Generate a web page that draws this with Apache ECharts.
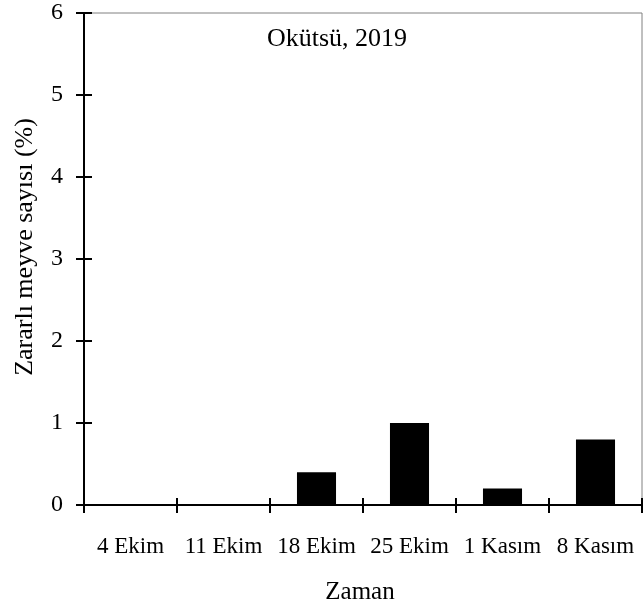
<!DOCTYPE html>
<html>
<head>
<meta charset="utf-8">
<script src="https://cdn.jsdelivr.net/npm/echarts@6/dist/echarts.min.js"></script>
<style>
html,body{margin:0;padding:0;background:#fff;}
#chart{width:643px;height:612px;}
</style>
</head>
<body>
<div id="chart"></div>
<script>
const categories = ['4 Ekim', '11 Ekim', '18 Ekim', '25 Ekim', '1 Kasım', '8 Kasım'];
const damagedFruit = [0, 0, 0.4, 1.0, 0.2, 0.8];
const yTicks = [0, 1, 2, 3, 4, 5, 6];
const chartTitle = 'Okütsü, 2019';
const xName = 'Zaman';
const yName = 'Zararlı meyve sayısı (%)';

const FONT = '"Liberation Serif", "Times New Roman", serif';
const chart = echarts.init(document.getElementById('chart'));
const yMin = yTicks[0], yMax = yTicks[yTicks.length - 1];
chart.setOption({
  animation: false,
  backgroundColor: '#fff',
  title: {
    text: chartTitle,
    left: 262, top: 21,
    textStyle: { fontFamily: FONT, fontSize: 26, fontWeight: 'normal', color: '#000' }
  },
  graphic: [{
    type: 'text', x: 25, y: 247, rotation: Math.PI / 2,
    style: { text: yName, fontFamily: FONT, fontSize: 26, fill: '#000', align: 'center', verticalAlign: 'middle' }
  }],
  grid: { left: 84, right: 1, top: 13, bottom: 107, show: true, borderColor: '#808080', borderWidth: 1, backgroundColor: 'transparent' },
  xAxis: [{
    type: 'category', data: categories, boundaryGap: true,
    name: xName, nameLocation: 'middle', nameGap: 75,
    nameTextStyle: { fontFamily: FONT, fontSize: 25, color: '#000', padding: [0, 6, 0, 0] },
    axisLine: { lineStyle: { color: '#000', width: 2 } },
    axisTick: { show: true, length: 8, inside: false, lineStyle: { color: '#000', width: 2 } },
    axisLabel: { fontFamily: FONT, fontSize: 23, color: '#000', margin: 30, interval: 0 },
    splitLine: { show: false }
  }, {
    type: 'category', data: categories, boundaryGap: true, position: 'bottom',
    axisLine: { show: false },
    axisTick: { show: true, length: 7, inside: true, lineStyle: { color: '#000', width: 2 } },
    axisLabel: { show: false }, splitLine: { show: false }
  }],
  yAxis: [{
    type: 'value', min: yMin, max: yMax, interval: 1,
    axisLine: { show: true, lineStyle: { color: '#000', width: 2 } },
    axisTick: { show: true, length: 8, inside: false, lineStyle: { color: '#000', width: 2 } },
    axisLabel: { fontFamily: FONT, fontSize: 24, color: '#000', margin: 21 },
    splitLine: { show: false }
  }, {
    type: 'value', min: yMin, max: yMax, interval: 1, position: 'left',
    axisLine: { show: false },
    axisTick: { show: true, length: 8, inside: true, lineStyle: { color: '#000', width: 2 } },
    axisLabel: { show: false }, splitLine: { show: false }
  }],
  series: [{
    type: 'bar', data: damagedFruit, xAxisIndex: 0, yAxisIndex: 0,
    barWidth: '42%',
    itemStyle: { color: '#000' }
  }]
});
</script>
</body>
</html>
